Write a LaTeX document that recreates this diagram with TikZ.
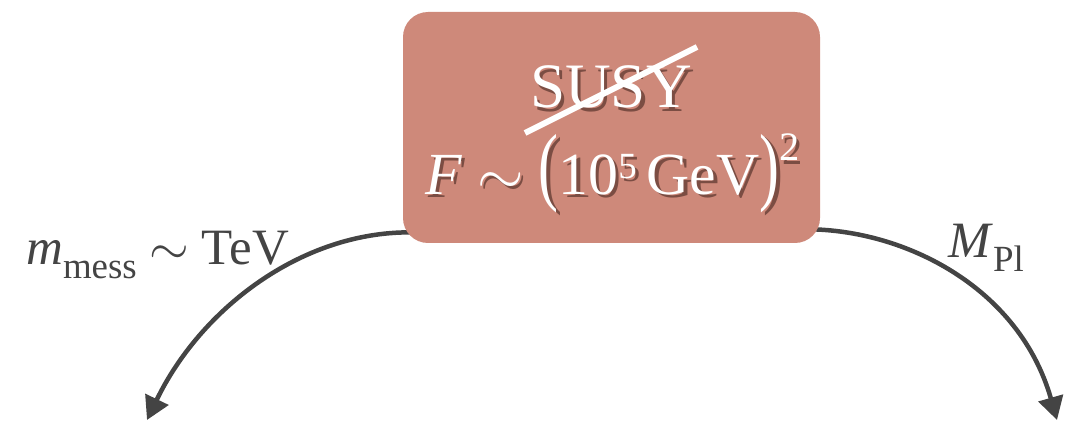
\documentclass[tikz,border=0pt]{standalone}
\usepackage{fix-cm}
\usepackage{fontspec}
\setmainfont{Liberation Serif}
\usetikzlibrary{arrows.meta,backgrounds}
\definecolor{susyfill}{RGB}{206,137,122}
\definecolor{inkgray}{RGB}{68,68,68}
\definecolor{shadowbrown}{RGB}{80,45,38}

\newcommand{\bigfont}{\fontsize{36}{42}\selectfont}
\newcommand{\midfont}{\fontsize{34}{40}\selectfont}
\newcommand{\labfont}{\fontsize{29}{35}\selectfont}
\newcommand{\scaleline}{\textit{F} $\sim$ \scalebox{1}[1.45]{(}10\raisebox{0.32cm}{\fontsize{21}{24}\selectfont 5}\,GeV\scalebox{1}[1.45]{)}\raisebox{0.66cm}{\fontsize{23}{26}\selectfont 2}}

\begin{document}
\begin{tikzpicture}[
    box/.style={rounded corners=0.5cm, fill=susyfill, minimum width=8.34cm, minimum height=4.62cm},
    glow/.style={text=white},
    shade/.style={text=shadowbrown, opacity=0.65},
    edge/.style={-{Triangle[length=0.46cm,width=0.5cm]}, line width=0.09cm, draw=inkgray},
    lab/.style={font=\labfont, text=inkgray},
]
\useasboundingbox (0,0) rectangle (21.32,-8.46);
\node[box] (susy) at (12.23,-2.55) {};
\node[shade, font=\bigfont, anchor=base] (titleshadow) at (12.29,-2.23) {SUSY};
\node[glow, font=\bigfont, anchor=base] (title) at (12.22,-2.16) {SUSY};
\draw[white, line width=0.12cm] (10.5,-2.66) -- (13.94,-0.94);
\node[shade, font=\midfont, anchor=base] (scaleshadow) at (12.32,-3.95) {\scaleline};
\node[glow, font=\midfont, anchor=base] (scale) at (12.25,-3.88) {\scaleline};
\coordinate (lowscale) at (2.94,-8.4);
\coordinate (highscale) at (21.14,-8.4);
\begin{pgfonlayer}{background}
\draw[edge] ([xshift=0.15cm,yshift=0.22cm]susy.south west) .. controls (6.0,-4.64) and (4.0,-6.2) .. (lowscale);
\draw[edge] ([xshift=-0.15cm,yshift=0.28cm]susy.south east) .. controls (18.2,-4.64) and (20.4,-5.8) .. (highscale);
\end{pgfonlayer}
\node[lab, anchor=base west] (messlab) at (0.40,-5.3) {\textit{m}\raisebox{-0.28cm}{\fontsize{21}{24}\selectfont mess} $\sim$ TeV};
\node[lab, anchor=base west] (planck) at (18.84,-5.14) {\textit{M}\raisebox{-0.28cm}{\fontsize{21}{24}\selectfont Pl}};
\end{tikzpicture}
\end{document}
